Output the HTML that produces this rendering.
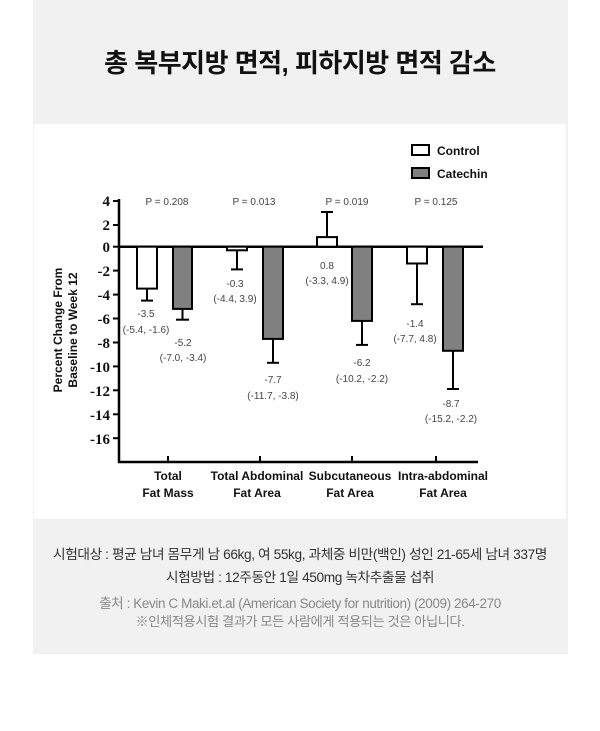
<!DOCTYPE html>
<html><head><meta charset="utf-8"><style>
body{margin:0;background:#fff;width:600px;height:731px;position:relative;overflow:hidden;font-family:"Liberation Sans","Noto Sans CJK KR",sans-serif}
.g{position:absolute;left:33px;top:0;width:535px;height:654px;background:#f1f1f1}
.w{position:absolute;left:34px;top:124px;width:532px;height:395px;background:#fff}
.t{position:absolute;left:0;width:600px;text-align:center;white-space:nowrap}
</style></head><body>
<div class="g"></div><div class="w"></div>
<div class="t" style="top:43px;font-size:26px;font-weight:bold;color:#111;letter-spacing:-0.5px">총 복부지방 면적, 피하지방 면적 감소</div>
<svg style="position:absolute;left:0;top:0" width="600" height="731" font-family="Liberation Sans, sans-serif">
<g stroke="#000" stroke-width="2.5" fill="none">
<line x1="119" y1="199" x2="119" y2="463"/>
<line x1="118" y1="462" x2="478" y2="462"/>
<line x1="119" y1="246.7" x2="483" y2="246.7"/>
<g stroke-width="2">
<line x1="113" y1="201" x2="119" y2="201"/><line x1="113" y1="225" x2="119" y2="225"/><line x1="113" y1="246.7" x2="119" y2="246.7"/><line x1="113" y1="270.6" x2="119" y2="270.6"/><line x1="113" y1="294.6" x2="119" y2="294.6"/><line x1="113" y1="318.5" x2="119" y2="318.5"/><line x1="113" y1="342.5" x2="119" y2="342.5"/><line x1="113" y1="366.4" x2="119" y2="366.4"/><line x1="113" y1="390.3" x2="119" y2="390.3"/><line x1="113" y1="414.3" x2="119" y2="414.3"/><line x1="113" y1="438.2" x2="119" y2="438.2"/>
<line x1="168" y1="456" x2="168" y2="462"/><line x1="260" y1="456" x2="260" y2="462"/><line x1="352" y1="456" x2="352" y2="462"/><line x1="436" y1="456" x2="436" y2="462"/>
</g>
<g stroke-width="2">
<line x1="147" y1="288.6" x2="147" y2="300.6"/><line x1="141" y1="300.6" x2="153" y2="300.6"/>
<line x1="182.5" y1="309" x2="182.5" y2="319.7"/><line x1="176" y1="319.7" x2="189" y2="319.7"/>
<line x1="237" y1="250" x2="237" y2="269.4"/><line x1="231" y1="269.4" x2="243" y2="269.4"/>
<line x1="273" y1="338.9" x2="273" y2="362.8"/><line x1="267" y1="362.8" x2="279" y2="362.8"/>
<line x1="327" y1="237" x2="327" y2="212"/><line x1="321" y1="212" x2="333" y2="212"/>
<line x1="362" y1="320.9" x2="362" y2="344.9"/><line x1="356" y1="344.9" x2="368" y2="344.9"/>
<line x1="417" y1="263.5" x2="417" y2="304.2"/><line x1="411" y1="304.2" x2="423" y2="304.2"/>
<line x1="453" y1="350.8" x2="453" y2="389"/><line x1="447" y1="389" x2="459" y2="389"/>
</g>
</g>
<g stroke="#000" stroke-width="2">
<rect x="137" y="246.7" width="20" height="41.9" fill="#fff"/>
<rect x="173" y="246.7" width="19" height="62.2" fill="#808080"/>
<rect x="227" y="246.7" width="20" height="3.6" fill="#fff"/>
<rect x="263" y="246.7" width="20" height="92.2" fill="#808080"/>
<rect x="317" y="237.1" width="20" height="9.6" fill="#fff"/>
<rect x="352" y="246.7" width="20" height="74.2" fill="#808080"/>
<rect x="407" y="246.7" width="20" height="16.8" fill="#fff"/>
<rect x="443" y="246.7" width="20" height="104.1" fill="#808080"/>
<rect x="412" y="145" width="17" height="10" fill="#fff"/>
<rect x="412" y="168" width="17" height="10" fill="#808080"/>
</g>
<g font-size="12" font-weight="bold" fill="#111">
<text x="437" y="155">Control</text><text x="437" y="178">Catechin</text>
</g>
<g font-family="Liberation Serif, serif" font-size="15" font-weight="bold" text-anchor="end" fill="#111">
<text x="110" y="206">4</text><text x="110" y="230">2</text><text x="110" y="252">0</text><text x="110" y="276">-2</text><text x="110" y="300">-4</text><text x="110" y="324">-6</text><text x="110" y="348">-8</text><text x="110" y="372">-10</text><text x="110" y="396">-12</text><text x="110" y="420">-14</text><text x="110" y="444">-16</text>
</g>
<g transform="translate(65,330) rotate(-90)" font-size="12" font-weight="bold" text-anchor="middle" fill="#111">
<text x="0" y="-3">Percent Change From</text><text x="0" y="12">Baseline to Week 12</text>
</g>
<g font-size="12" font-weight="bold" text-anchor="middle" fill="#111">
<text x="168" y="480">Total</text><text x="168" y="497">Fat Mass</text>
<text x="257" y="480">Total Abdominal</text><text x="257" y="497">Fat Area</text>
<text x="350" y="480">Subcutaneous</text><text x="350" y="497">Fat Area</text>
<text x="443" y="480">Intra-abdominal</text><text x="443" y="497">Fat Area</text>
</g>
<g font-size="10" text-anchor="middle" fill="#444">
<text x="167" y="205">P = 0.208</text><text x="254" y="205">P = 0.013</text><text x="347" y="205">P = 0.019</text><text x="436" y="205">P = 0.125</text>
<text x="146" y="317">-3.5</text><text x="146" y="333">(-5.4, -1.6)</text>
<text x="183" y="346">-5.2</text><text x="183" y="361">(-7.0, -3.4)</text>
<text x="235" y="287">-0.3</text><text x="235" y="302">(-4.4, 3.9)</text>
<text x="273" y="383">-7.7</text><text x="273" y="399">(-11.7, -3.8)</text>
<text x="327" y="269">0.8</text><text x="327" y="284">(-3.3, 4.9)</text>
<text x="362" y="366">-6.2</text><text x="362" y="382">(-10.2, -2.2)</text>
<text x="415" y="327">-1.4</text><text x="415" y="342">(-7.7, 4.8)</text>
<text x="451" y="407">-8.7</text><text x="451" y="422">(-15.2, -2.2)</text>
</g>
</svg>
<div class="t" style="top:543px;font-size:13.7px;color:#333;letter-spacing:-0.4px">시험대상 : 평균 남녀 몸무게 남 66kg, 여 55kg, 과체중 비만(백인) 성인 21-65세 남녀 337명</div>
<div class="t" style="top:566px;font-size:13.7px;color:#333;letter-spacing:-0.4px">시험방법 : 12주동안 1일 450mg 녹차추출물 섭취</div>
<div class="t" style="top:592px;font-size:13.5px;color:#888;letter-spacing:-0.4px">출처 : Kevin C Maki.et.al (American Society for nutrition) (2009) 264-270</div>
<div class="t" style="top:611px;font-size:13.2px;color:#888;letter-spacing:-0.4px">※인체적용시험 결과가 모든 사람에게 적용되는 것은 아닙니다.</div>
</body></html>
